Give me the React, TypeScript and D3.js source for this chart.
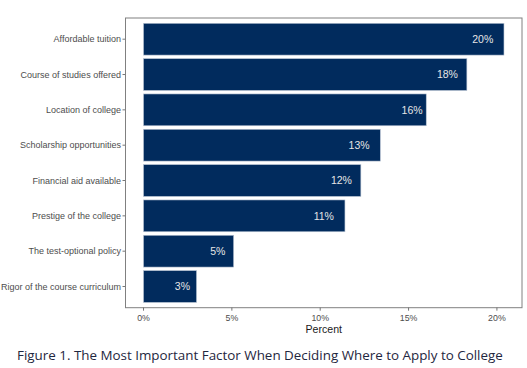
import * as d3 from 'd3';

const factors = [
    'Affordable tuition',
    'Course of studies offered',
    'Location of college',
    'Scholarship opportunities',
    'Financial aid available',
    'Prestige of the college',
    'The test-optional policy',
    'Rigor of the course curriculum',
];
const percents = [20.4, 18.3, 16.0, 13.4, 12.3, 11.4, 5.1, 3.0];
const xTicks = [0, 5, 10, 15, 20];
const caption = 'Figure 1. The Most Important Factor When Deciding Where to Apply to College';

const W = 527;
const H = 368;
const panel = { left: 125.5, right: 522, top: 18, bottom: 307.7 };
const BAR = '#012b5d';

export default function App() {
    const maxV = d3.max(percents) as number;
    const pad = maxV * 0.05;
    const x = d3
        .scaleLinear()
        .domain([-pad, maxV + pad])
        .range([panel.left, panel.right]);

    // ggplot-style discrete axis: 0.6 unit expansion each side, bar width 0.9
    const n = factors.length;
    const unit = (panel.bottom - panel.top) / (n - 1 + 1.2);
    const yCenter = (i: number) => panel.top + unit * (0.6 + i);
    const barH = unit * 0.9;

    const axisFont = 'Liberation Sans, Arial, sans-serif';

    return (
        <svg
            width={W}
            height={H}
            viewBox={`0 0 ${W} ${H}`}
            style={{ position: 'absolute', left: 0, top: 0, background: '#fff' }}
        >
            <rect x={0} y={0} width={W} height={H} fill="#fff" />
            {factors.map((f, i) => (
                <g key={f}>
                    <rect
                        x={x(0)}
                        y={yCenter(i) - barH / 2}
                        width={x(percents[i]) - x(0)}
                        height={barH}
                        fill={BAR}
                        stroke="#b8c3d3"
                        strokeWidth={0.6}
                    />
                    <text
                        x={x(Math.round(percents[i]) - 0.8)}
                        y={yCenter(i)}
                        dy="0.36em"
                        textAnchor="middle"
                        fontFamily={axisFont}
                        fontSize={10.5}
                        fill="#e6e6e6"
                    >
                        {`${Math.round(percents[i])}%`}
                    </text>
                    <line
                        x1={panel.left - 3}
                        x2={panel.left}
                        y1={yCenter(i)}
                        y2={yCenter(i)}
                        stroke="#555"
                        strokeWidth={0.8}
                    />
                    <text
                        x={panel.left - 4.5}
                        y={yCenter(i)}
                        dy="0.34em"
                        textAnchor="end"
                        fontFamily={axisFont}
                        fontSize={9}
                        fill="#4d4d4d"
                    >
                        {f}
                    </text>
                </g>
            ))}
            <rect
                x={panel.left}
                y={panel.top}
                width={panel.right - panel.left}
                height={panel.bottom - panel.top}
                fill="none"
                stroke="#808080"
                strokeWidth={1}
            />
            {xTicks.map((t) => (
                <g key={t}>
                    <line
                        x1={x(t)}
                        x2={x(t)}
                        y1={panel.bottom}
                        y2={panel.bottom + 3}
                        stroke="#555"
                        strokeWidth={0.8}
                    />
                    <text
                        x={x(t)}
                        y={320.5}
                        textAnchor="middle"
                        fontFamily={axisFont}
                        fontSize={8.8}
                        fill="#4d4d4d"
                    >
                        {`${t}%`}
                    </text>
                </g>
            ))}
            <text
                x={(panel.left + panel.right) / 2}
                y={333}
                textAnchor="middle"
                fontFamily={axisFont}
                fontSize={10.6}
                fill="#1a1a1a"
            >
                Percent
            </text>
            <text
                x={17}
                y={360}
                fontFamily="'Open Sans', 'Noto Sans', sans-serif"
                fontSize={13.4}
                fill="#1f2740"
            >
                {caption}
            </text>
        </svg>
    );
}
